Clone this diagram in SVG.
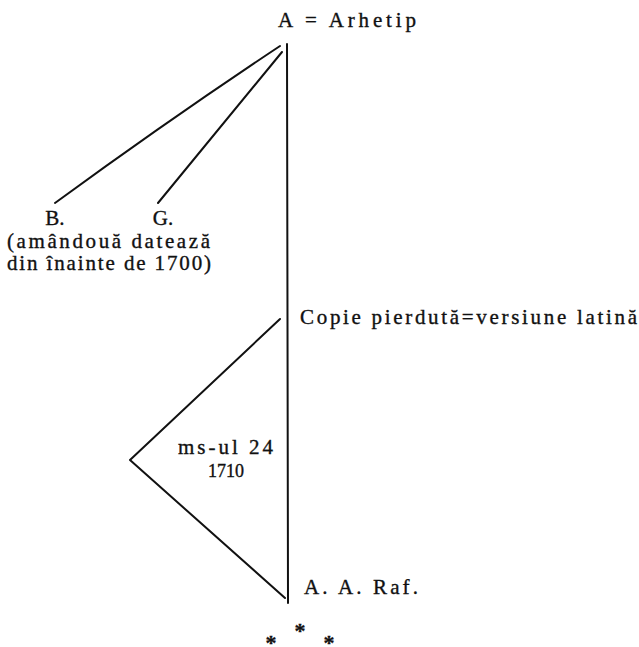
<svg xmlns="http://www.w3.org/2000/svg" width="639" height="647" viewBox="0 0 639 647">
<style>
text{font-family:"Liberation Serif","DejaVu Serif",serif;font-size:21px;fill:#111;stroke:#111;stroke-width:0.35}
.c{text-anchor:middle}
.s{font-size:22px;font-weight:bold}
line,path{stroke:#111;stroke-width:2;fill:none;stroke-linecap:round;stroke-linejoin:round}
</style>
<rect width="639" height="647" fill="#fff"/>
<g id="connectors">
<line x1="287" y1="44" x2="288" y2="603"/>
<path d="M280,46 Q170,119 55,203"/>
<line x1="282" y1="52" x2="158" y2="203"/>
<path d="M280,319 L130,460 L285,598"/>
</g>
<g id="archetype"><text x="278" y="27" textLength="138" lengthAdjust="spacing">A = Arhetip</text></g>
<g id="B"><text class="c" x="55" y="225">B.</text></g>
<g id="G"><text class="c" x="163" y="225">G.</text></g>
<g id="note"><text x="7" y="248" textLength="203" lengthAdjust="spacing">(amândouă datează</text>
<text x="7" y="270" textLength="204" lengthAdjust="spacing">din înainte de 1700)</text></g>
<g id="copie"><text x="300" y="324" textLength="337" lengthAdjust="spacing">Copie pierdută=versiune latină</text></g>
<g id="ms24"><text x="178" y="454" textLength="95" lengthAdjust="spacing">ms-ul 24</text>
<text class="c" x="226" y="477" style="font-size:18px">1710</text></g>
<g id="aaraf"><text x="304" y="594" textLength="114" lengthAdjust="spacing">A. A. Raf.</text></g>
<g id="stars"><text class="c s" x="271" y="650">*</text><text class="c s" x="300" y="638">*</text><text class="c s" x="329" y="650">*</text></g>
</svg>
